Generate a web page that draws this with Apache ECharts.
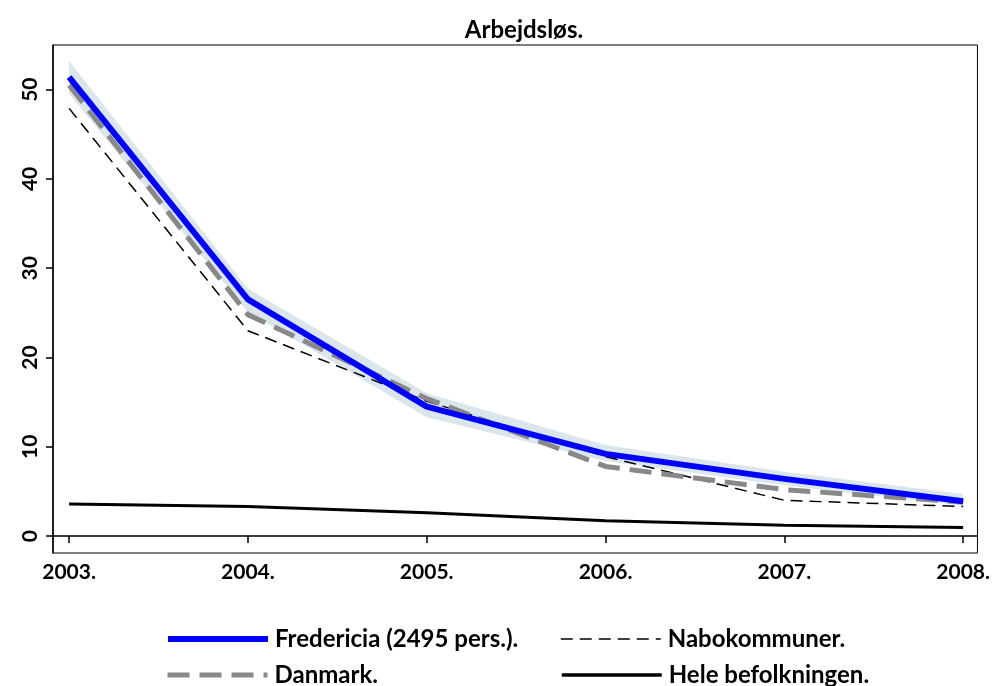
<!DOCTYPE html>
<html>
<head>
<meta charset="utf-8">
<script src="https://cdn.jsdelivr.net/npm/echarts@6/dist/echarts.min.js"></script>
<style>html,body{margin:0;padding:0;background:#fff}#c{width:993px;height:686px}</style>
</head>
<body>
<div id="c"></div>
<script>
var years = [2003, 2004, 2005, 2006, 2007, 2008];
var fredericia = [51.4, 26.5, 14.5, 9.2, 6.4, 3.9];
var ciLower = [49.5, 25.1, 13.3, 8.4, 5.7, 3.4];
var ciUpper = [53.2, 27.7, 16.0, 10.2, 7.2, 4.7];
var danmark = [50.5, 24.8, 15.4, 7.8, 5.2, 3.8];
var nabokommuner = [47.9, 23.0, 15.1, 8.9, 4.0, 3.3];
var heleBefolkningen = [3.6, 3.3, 2.6, 1.7, 1.2, 0.95];
var yTicks = [0, 10, 20, 30, 40, 50];

function pairs(arr) { return years.map(function (y, i) { return [y, arr[i]]; }); }

var FONT = 'Lato';
function legendAt(name, left, top, lineStyle) {
  return {
    left: left, top: top, itemWidth: 100, itemHeight: 6, itemGap: 0,
    data: [name], itemStyle: { opacity: 0 }, lineStyle: lineStyle,
    textStyle: { fontFamily: FONT, fontSize: 24, fontWeight: 'bold', color: '#000', padding: [0, 0, 0, 2] }
  };
}

var chart = echarts.init(document.getElementById('c'));
chart.setOption({
  animation: false,
  title: {
    text: 'Arbejdsløs.', left: 519, top: 13, textAlign: 'center',
    textStyle: { fontFamily: FONT, fontSize: 24, fontWeight: 'bold', color: '#000' }
  },
  grid: { left: 53, right: 14, top: 45, bottom: 133, show: true, borderColor: '#000', borderWidth: 1, backgroundColor: '#fff' },
  xAxis: {
    type: 'value', min: 2002.91, max: 2008.08,
    axisLine: { lineStyle: { color: '#000', width: 1.5 } },
    axisTick: { customValues: years, length: 7, lineStyle: { color: '#000', width: 1.5 } },
    axisLabel: { customValues: years, formatter: function (v) { return v + '.'; }, fontFamily: FONT, fontSize: 21, fontWeight: 'bold', color: '#000', margin: 9 },
    splitLine: { show: false }
  },
  yAxis: {
    type: 'value', min: -1.9, max: 55,
    axisLine: { show: true, lineStyle: { color: '#000', width: 1.5 } },
    axisTick: { show: true, customValues: yTicks, length: 7, lineStyle: { color: '#000', width: 1.5 } },
    axisLabel: { customValues: yTicks, rotate: 90, fontFamily: FONT, fontSize: 21, fontWeight: 'bold', color: '#000', margin: 12 },
    splitLine: { show: false }
  },
  legend: [
    legendAt('Fredericia (2495 pers.).', 160, 622, { width: 6 }),
    legendAt('Danmark.', 160, 658, { width: 5, type: [22, 10] }),
    legendAt('Nabokommuner.', 555, 622, { width: 1.5, type: [12, 7] }),
    legendAt('Hele befolkningen.', 555, 658, { width: 3.5 })
  ],
  series: [
    {
      name: 'ci', type: 'custom', silent: true, z: 1,
      data: [[0]],
      renderItem: function (params, api) {
        var pts = [];
        years.forEach(function (y, i) { pts.push(api.coord([y, ciUpper[i]])); });
        for (var i = years.length - 1; i >= 0; i--) pts.push(api.coord([years[i], ciLower[i]]));
        return { type: 'polygon', shape: { points: pts }, style: { fill: '#dbe5ec', stroke: null } };
      }
    },
    { name: 'Hele befolkningen.', type: 'line', data: pairs(heleBefolkningen), symbol: 'none', itemStyle: { color: '#000' }, lineStyle: { color: '#000', width: 3 }, z: 2 },
    { name: 'Nabokommuner.', type: 'line', data: pairs(nabokommuner), symbol: 'none', itemStyle: { color: '#000' }, lineStyle: { color: '#000', width: 1.5, type: [12, 7] }, z: 3 },
    { name: 'Danmark.', type: 'line', data: pairs(danmark), symbol: 'none', itemStyle: { color: '#888888' }, lineStyle: { color: '#888888', width: 5, type: [22, 10] }, z: 4 },
    { name: 'Fredericia (2495 pers.).', type: 'line', data: pairs(fredericia), symbol: 'none', itemStyle: { color: '#0000ff' }, lineStyle: { color: '#0000ff', width: 6 }, z: 5 }
  ]
});
</script>
</body>
</html>
